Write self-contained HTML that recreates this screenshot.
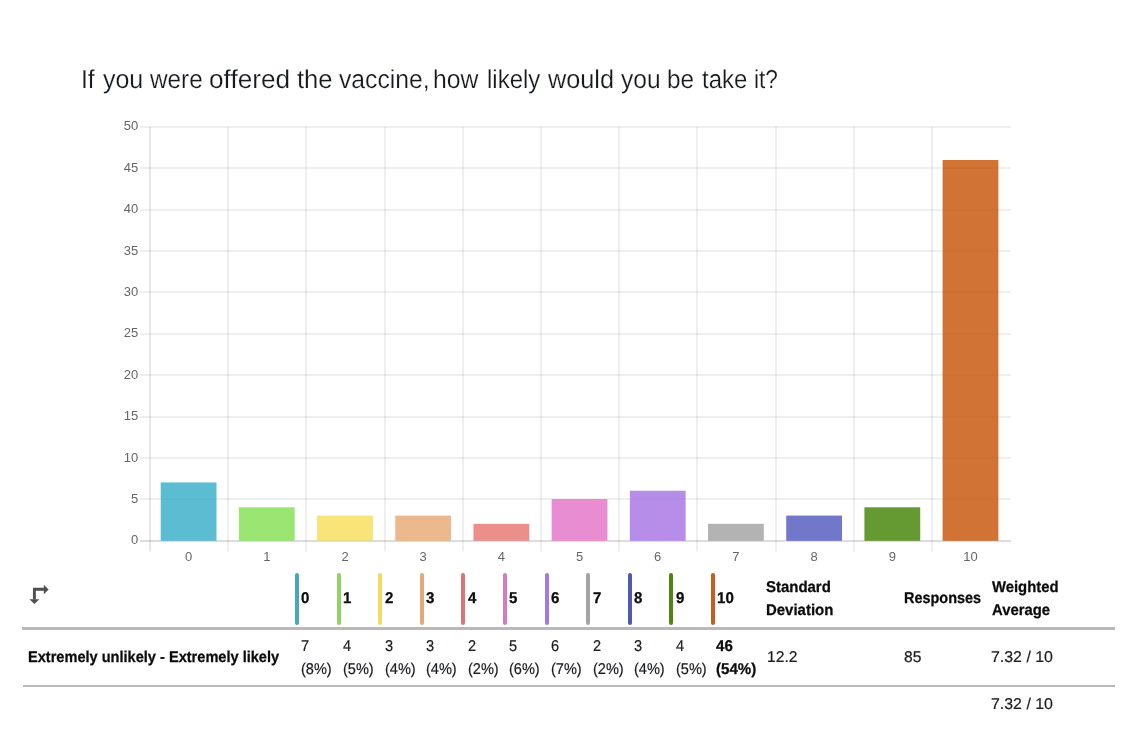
<!DOCTYPE html>
<html lang="en">
<head>
<meta charset="utf-8">
<title>If you were offered the vaccine, how likely would you be take it?</title>
<style>
html,body{margin:0;padding:0;background:#fff;}
body{width:1142px;height:731px;position:relative;overflow:hidden;font-family:"Liberation Sans",sans-serif;color:#1c1e21;}
.title{position:absolute;left:0;top:58.5px;width:1142px;height:40px;margin:0;font-weight:400;font-size:26px;line-height:40px;white-space:nowrap;color:#16191d;}
.title span{position:absolute;top:0;display:block;transform-origin:0 0;-webkit-text-stroke:0.2px #fff;text-rendering:geometricPrecision;}
.chart{position:absolute;left:0;top:0;}
.ax text{font-family:"Liberation Sans",sans-serif;font-size:13px;fill:#666;}
.icon{position:absolute;left:28px;top:584px;}
.mk{position:absolute;top:573px;width:4px;height:52px;border-radius:2px;}
.h,.c{position:absolute;font-size:15.6px;line-height:22.5px;white-space:nowrap;transform-origin:0 0;text-rendering:geometricPrecision;}
.c{-webkit-text-stroke:0.22px #1c1e21;}
.h{font-weight:700;color:#0c0c0c;-webkit-text-stroke:0.28px #0c0c0c;}
.rule1{position:absolute;left:22px;top:627px;width:1093px;height:3px;background:#b9b9b9;}
.rule2{position:absolute;left:23px;top:685px;width:1092px;height:2px;background:#b9b9b9;}
</style>
</head>
<body>
<h1 class="title"><span style="left:80.7px;transform:scaleX(0.95)">If</span> <span style="left:103.1px;transform:scaleX(0.96)">you</span> <span style="left:150.4px;transform:scaleX(0.9364)">were</span> <span style="left:208.59px;transform:scaleX(1.0077)">offered</span> <span style="left:296.7px;transform:scaleX(0.985)">the</span> <span style="left:338.7px;transform:scaleX(0.9505)">vaccine,</span> <span style="left:432.8px;transform:scaleX(0.9522)">how</span> <span style="left:486.55px;transform:scaleX(0.9232)">likely</span> <span style="left:547.9px;transform:scaleX(0.9712)">would</span> <span style="left:621.2px;transform:scaleX(0.945)">you</span> <span style="left:667.4000000000001px;transform:scaleX(0.9355)">be</span> <span style="left:701.9px;transform:scaleX(0.9208)">take</span> <span style="left:753.85px;transform:scaleX(0.8734)">it?</span></h1>
<svg class="chart" width="1142" height="575" viewBox="0 0 1142 575">
<g stroke-width="1" fill="none">
<line x1="140.0" x2="1010.9" y1="541" y2="541" stroke="rgba(0,0,0,0.27)"/>
<line x1="140.0" x2="1010.9" y1="499" y2="499" stroke="rgba(0,0,0,0.125)"/>
<line x1="140.0" x2="1010.9" y1="458" y2="458" stroke="rgba(0,0,0,0.125)"/>
<line x1="140.0" x2="1010.9" y1="417" y2="417" stroke="rgba(0,0,0,0.125)"/>
<line x1="140.0" x2="1010.9" y1="375" y2="375" stroke="rgba(0,0,0,0.125)"/>
<line x1="140.0" x2="1010.9" y1="334" y2="334" stroke="rgba(0,0,0,0.125)"/>
<line x1="140.0" x2="1010.9" y1="292" y2="292" stroke="rgba(0,0,0,0.125)"/>
<line x1="140.0" x2="1010.9" y1="251" y2="251" stroke="rgba(0,0,0,0.125)"/>
<line x1="140.0" x2="1010.9" y1="210" y2="210" stroke="rgba(0,0,0,0.125)"/>
<line x1="140.0" x2="1010.9" y1="168" y2="168" stroke="rgba(0,0,0,0.125)"/>
<line x1="140.0" x2="1010.9" y1="127" y2="127" stroke="rgba(0,0,0,0.125)"/>
<line x1="150" x2="150" y1="126.9" y2="551.5999999999999" stroke="rgba(0,0,0,0.19)"/>
<line x1="228" x2="228" y1="126.9" y2="551.5999999999999" stroke="rgba(0,0,0,0.125)"/>
<line x1="306" x2="306" y1="126.9" y2="551.5999999999999" stroke="rgba(0,0,0,0.125)"/>
<line x1="385" x2="385" y1="126.9" y2="551.5999999999999" stroke="rgba(0,0,0,0.125)"/>
<line x1="463" x2="463" y1="126.9" y2="551.5999999999999" stroke="rgba(0,0,0,0.125)"/>
<line x1="541" x2="541" y1="126.9" y2="551.5999999999999" stroke="rgba(0,0,0,0.125)"/>
<line x1="619" x2="619" y1="126.9" y2="551.5999999999999" stroke="rgba(0,0,0,0.125)"/>
<line x1="697" x2="697" y1="126.9" y2="551.5999999999999" stroke="rgba(0,0,0,0.125)"/>
<line x1="776" x2="776" y1="126.9" y2="551.5999999999999" stroke="rgba(0,0,0,0.125)"/>
<line x1="854" x2="854" y1="126.9" y2="551.5999999999999" stroke="rgba(0,0,0,0.125)"/>
<line x1="932" x2="932" y1="126.9" y2="551.5999999999999" stroke="rgba(0,0,0,0.125)"/>
</g>
<g>
<rect x="160.70" y="482.45" width="55.80" height="58.35" fill="#37adc8" fill-opacity="0.82"/>
<rect x="238.89" y="507.29" width="55.80" height="33.51" fill="#85df53" fill-opacity="0.82"/>
<rect x="317.08" y="515.57" width="55.80" height="25.23" fill="#f6de5a" fill-opacity="0.82"/>
<rect x="395.27" y="515.57" width="55.80" height="25.23" fill="#e7aa74" fill-opacity="0.82"/>
<rect x="473.46" y="523.84" width="55.80" height="16.96" fill="#e87670" fill-opacity="0.82"/>
<rect x="551.65" y="499.01" width="55.80" height="41.79" fill="#e474c8" fill-opacity="0.82"/>
<rect x="629.84" y="490.73" width="55.80" height="50.07" fill="#a675e4" fill-opacity="0.82"/>
<rect x="708.03" y="523.84" width="55.80" height="16.96" fill="#a2a2a2" fill-opacity="0.82"/>
<rect x="786.22" y="515.57" width="55.80" height="25.23" fill="#525abe" fill-opacity="0.82"/>
<rect x="864.41" y="507.29" width="55.80" height="33.51" fill="#438405" fill-opacity="0.82"/>
<rect x="942.60" y="160.01" width="55.80" height="380.79" fill="#c75409" fill-opacity="0.82"/>
</g>
<g class="ax" text-anchor="end">
<text x="138.2" y="544.2">0</text>
<text x="138.2" y="502.9">5</text>
<text x="138.2" y="461.5">10</text>
<text x="138.2" y="420.1">15</text>
<text x="138.2" y="378.7">20</text>
<text x="138.2" y="337.3">25</text>
<text x="138.2" y="295.9">30</text>
<text x="138.2" y="254.5">35</text>
<text x="138.2" y="213.1">40</text>
<text x="138.2" y="171.7">45</text>
<text x="138.2" y="130.3">50</text>
</g>
<g class="ax" text-anchor="middle">
<text x="188.6" y="561.4">0</text>
<text x="266.8" y="561.4">1</text>
<text x="345.0" y="561.4">2</text>
<text x="423.2" y="561.4">3</text>
<text x="501.4" y="561.4">4</text>
<text x="579.5" y="561.4">5</text>
<text x="657.7" y="561.4">6</text>
<text x="735.9" y="561.4">7</text>
<text x="814.1" y="561.4">8</text>
<text x="892.3" y="561.4">9</text>
<text x="970.5" y="561.4">10</text>
</g>
</svg>
<svg class="icon" width="22" height="22" viewBox="0 0 22 22"><path d="M6.4 15.6V5.3H16.2" fill="none" stroke="#4f4f4f" stroke-width="2.9"/><path d="M15.8 0.7L20.6 5.5 15.8 10.3z" fill="#4f4f4f"/><path d="M1.4 15.2L6.4 19.9 11.4 15.2z" fill="#4f4f4f"/></svg>
<div class="mk" style="left:295px;background:#44a9c0"></div>
<div class="h" style="left:301.30px;top:588.25px;transform:scaleX(0.965)">0</div>
<div class="c" style="left:301.37px;top:636.15px;transform:scaleX(0.9323)">7<br>(8%)</div>
<div class="mk" style="left:337px;background:#8fd462"></div>
<div class="h" style="left:342.90px;top:588.25px;transform:scaleX(0.965)">1</div>
<div class="c" style="left:342.97px;top:636.15px;transform:scaleX(0.9323)">4<br>(5%)</div>
<div class="mk" style="left:378px;background:#f3da60"></div>
<div class="h" style="left:384.50px;top:588.25px;transform:scaleX(0.965)">2</div>
<div class="c" style="left:384.57px;top:636.15px;transform:scaleX(0.9323)">3<br>(4%)</div>
<div class="mk" style="left:420px;background:#e2aa7a"></div>
<div class="h" style="left:426.10px;top:588.25px;transform:scaleX(0.965)">3</div>
<div class="c" style="left:426.17px;top:636.15px;transform:scaleX(0.9323)">3<br>(4%)</div>
<div class="mk" style="left:461px;background:#d87676"></div>
<div class="h" style="left:467.70px;top:588.25px;transform:scaleX(0.965)">4</div>
<div class="c" style="left:467.77px;top:636.15px;transform:scaleX(0.9323)">2<br>(2%)</div>
<div class="mk" style="left:503px;background:#d67ac4"></div>
<div class="h" style="left:509.30px;top:588.25px;transform:scaleX(0.965)">5</div>
<div class="c" style="left:509.37px;top:636.15px;transform:scaleX(0.9323)">5<br>(6%)</div>
<div class="mk" style="left:545px;background:#a47adc"></div>
<div class="h" style="left:550.90px;top:588.25px;transform:scaleX(0.965)">6</div>
<div class="c" style="left:550.97px;top:636.15px;transform:scaleX(0.9323)">6<br>(7%)</div>
<div class="mk" style="left:586px;background:#a4a4a4"></div>
<div class="h" style="left:592.50px;top:588.25px;transform:scaleX(0.965)">7</div>
<div class="c" style="left:592.57px;top:636.15px;transform:scaleX(0.9323)">2<br>(2%)</div>
<div class="mk" style="left:628px;background:#5058b4"></div>
<div class="h" style="left:634.10px;top:588.25px;transform:scaleX(0.965)">8</div>
<div class="c" style="left:634.17px;top:636.15px;transform:scaleX(0.9323)">3<br>(4%)</div>
<div class="mk" style="left:669px;background:#4f8612"></div>
<div class="h" style="left:675.70px;top:588.25px;transform:scaleX(0.965)">9</div>
<div class="c" style="left:675.77px;top:636.15px;transform:scaleX(0.9323)">4<br>(5%)</div>
<div class="mk" style="left:711px;background:#c4601c"></div>
<div class="h" style="left:717.13px;top:588.25px;transform:scaleX(0.9688)">10</div>
<div class="h" style="left:715.63px;top:636.15px;transform:scaleX(0.9675)">46<br>(54%)</div>
<div class="h" style="left:766.24px;top:577.35px;transform:scaleX(0.959)">Standard<br>Deviation</div>
<div class="h" style="left:903.77px;top:588.45px;transform:scaleX(0.9268)">Responses</div>
<div class="h" style="left:992.20px;top:577.35px;transform:scaleX(0.9517)">Weighted<br>Average</div>
<div class="rule1"></div>
<div class="h" style="left:27.77px;top:647.35px;transform:scaleX(0.9345)">Extremely unlikely - Extremely likely</div>
<div class="c" style="left:766.70px;top:647.35px;transform:scaleX(1.0034)">12.2</div>
<div class="c" style="left:904.00px;top:647.35px;transform:scaleX(1.0)">85</div>
<div class="c" style="left:990.98px;top:647.35px;transform:scaleX(1.0203)">7.32 / 10</div>
<div class="rule2"></div>
<div class="c" style="left:990.98px;top:694.35px;transform:scaleX(1.0203)">7.32 / 10</div>
</body>
</html>
